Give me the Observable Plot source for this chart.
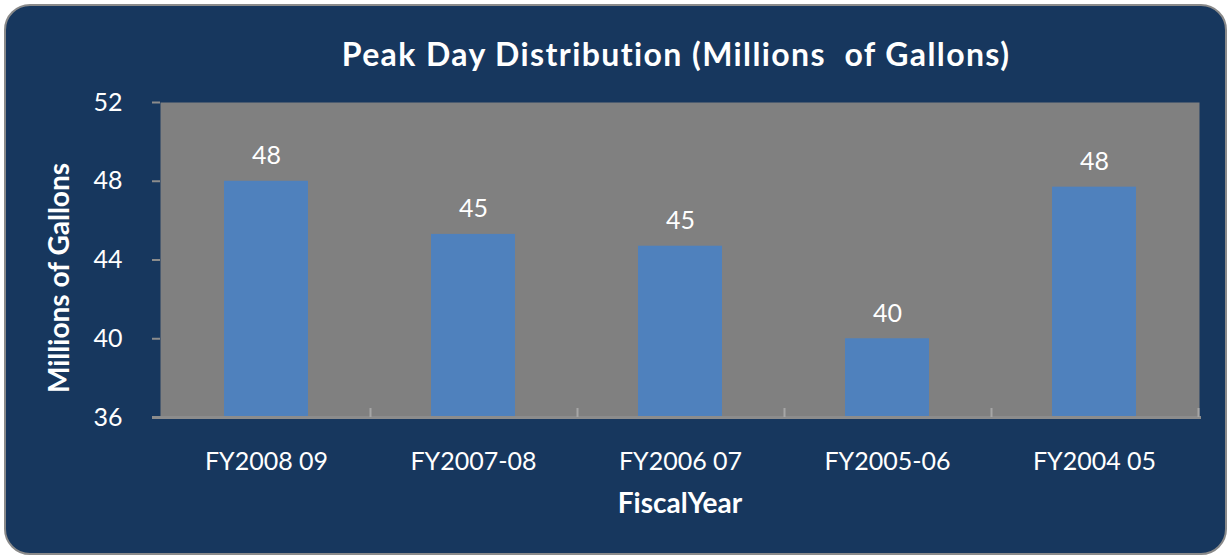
<!DOCTYPE html>
<html>
<head>
<meta charset="utf-8">
<script src="https://cdn.jsdelivr.net/npm/d3@7"></script>
<script src="https://cdn.jsdelivr.net/npm/@observablehq/plot@0.6"></script>
<style>
  html, body { margin: 0; padding: 0; background: #ffffff; }
  #wrap { position: relative; width: 1231px; height: 557px; overflow: hidden; font-family: Lato, "Open Sans", sans-serif; }
  #panel { position: absolute; left: 4px; top: 4px; width: 1219px; height: 547px; border: 2px solid #8a8a8a; border-radius: 26px; background: #17375E; }
  #title { position: absolute; left: 150px; width: 1052px; top: 34px; line-height: 40px; text-align: center; color: #ffffff; font-weight: bold; font-size: 32px; letter-spacing: 1.4px; }
  #chart { position: absolute; left: 0; top: 80px; }
</style>
</head>
<body>
<div id="wrap">
  <div id="panel"></div>
  <div id="title">Peak Day Distribution (Millions&nbsp; of Gallons)</div>
  <div id="chart"></div>
</div>
<script>
const categories = ["FY2008 09", "FY2007-08", "FY2006 07", "FY2005-06", "FY2004 05"];
const values = [48.0, 45.3, 44.7, 40.0, 47.7];
const yTicks = [36, 40, 44, 48, 52];
const yMin = 36, yMax = 52;

const data = categories.map((c, i) => ({category: c, value: values[i]}));

const chart = Plot.plot({
  width: 1231,
  height: 460,
  marginLeft: 160,
  marginRight: 32,
  marginTop: 22,
  marginBottom: 123,
  style: {background: "transparent", color: "#ffffff", fontFamily: "Lato, 'Open Sans', sans-serif", fontSize: "25px"},
  x: {domain: categories, paddingInner: 0.595, paddingOuter: 0.2975, label: null},
  y: {domain: [yMin, yMax], label: null},
  marks: [
    Plot.frame({fill: "#808080", stroke: null}),
    Plot.barY(data, {x: "category", y1: () => yMin, y2: "value", fill: "#4F81BD"}),
    Plot.text(data, {x: "category", y: "value", text: d => Math.round(d.value).toString(), dy: -25, fill: "#ffffff", fontSize: 25}),
    Plot.axisY({ticks: yTicks, tickSize: 8, tickPadding: 30, stroke: "#8c8c8c", strokeWidth: 2, fill: "#ffffff", fontSize: 25}),
    Plot.ruleY([yMin], {stroke: "#8c8c8c", strokeWidth: 3, insetLeft: -8, insetRight: -2}),
    Plot.axisX({tickSize: -9, dx: 104, text: null, stroke: "#a6a6a6", strokeWidth: 2, tickPadding: 0}),
    Plot.axisX({tickSize: 0, tickPadding: 35, fill: "#ffffff", fontSize: 25, label: null}),
    Plot.text(["Millions of Gallons"], {frameAnchor: "left", textAnchor: "middle", dx: -100, rotate: -90, dy: 18, text: d => d, fill: "#ffffff", fontWeight: "bold", fontSize: 28, style: {letterSpacing: "1.6px"}}),
    Plot.text(["FiscalYear"], {frameAnchor: "bottom", dy: 95, text: d => d, fill: "#ffffff", fontWeight: "bold", fontSize: 28, style: {letterSpacing: "0.8px"}})
  ]
});
document.getElementById("chart").appendChild(chart);
</script>
</body>
</html>
